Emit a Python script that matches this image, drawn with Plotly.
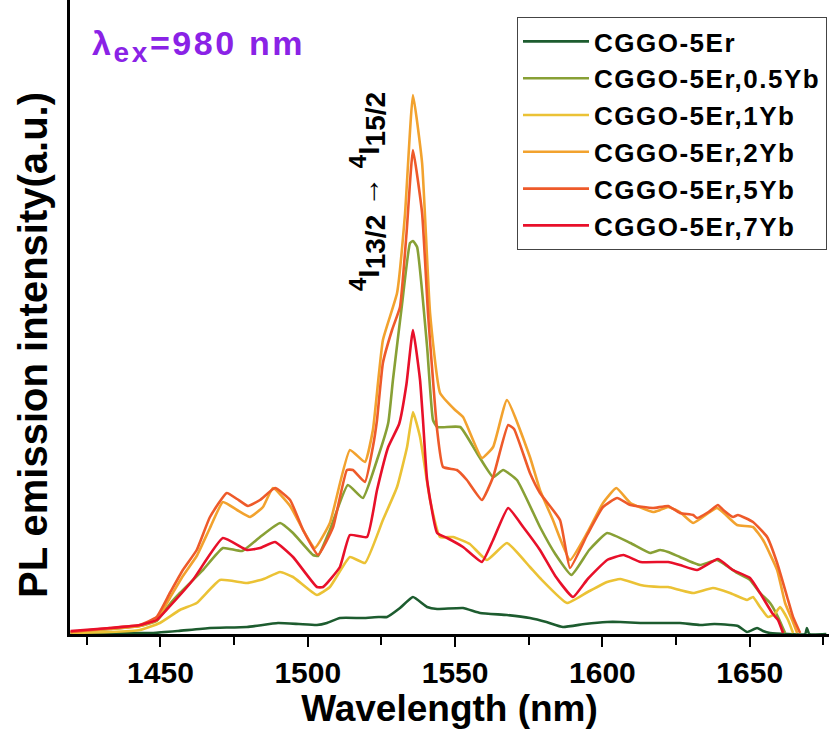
import plotly.graph_objects as go

# ---- data (wavelength in nm, intensity in a.u.) ----
wl_5Er = [1419.5, 1447.5, 1456.0, 1466.8, 1479.4, 1489.9, 1497.0, 1503.1, 1506.5, 1510.9, 1518.7, 1524.0,
          1526.9, 1531.3, 1535.7, 1540.5, 1543.9, 1552.7, 1558.5, 1567.6, 1575.4, 1581.0, 1586.6, 1594.0,
          1601.6, 1606.0, 1612.9, 1620.0, 1626.3, 1633.1, 1638.0, 1643.3, 1646.0, 1649.1, 1652.5,
          1654.5, 1656.9, 1668.8, 1669.4, 1670.2, 1676.0]
I_5Er = [1, 1, 3, 6, 7, 11, 10, 9, 11, 16, 16, 17, 17, 26, 37, 27, 25, 26, 21, 19, 16, 12, 7, 10,
         12, 12, 11, 11, 11, 9, 10, 9, 8, 2, 6, 3, 1, 0, 6, 0, 0]

wl_05Yb = [1419.5, 1432.9, 1443.0, 1448.7, 1453.2, 1456.6, 1464.4, 1471.2, 1477.7, 1483.8, 1490.6, 1495.0,
           1501.8, 1503.5, 1507.5, 1513.6, 1518.7, 1523.5, 1527.3, 1528.9, 1532.0, 1534.7, 1535.7, 1537.1,
           1540.5, 1542.5, 1543.9, 1551.7, 1557.4, 1562.9, 1566.3, 1571.0, 1578.8, 1584.0, 1589.5,
           1595.5, 1601.6, 1609.5, 1616.2, 1619.6, 1622.3, 1626.3, 1633.1, 1638.9, 1645.7, 1650.1,
           1653.5, 1656.9, 1659.6, 1662.0]
I_05Yb = [2, 5, 8, 13, 30, 41, 64, 86, 83, 97, 111, 101, 79, 78, 104, 149, 136, 174, 211, 254, 330, 391,
          393, 387, 287, 214, 207, 207, 181, 157, 164, 154, 107, 80, 59, 84, 101, 91, 81, 84, 82, 77, 69,
          74, 61, 54, 41, 31, 17, 1]

wl_1Yb = [1419.5, 1432.9, 1443.0, 1449.8, 1456.6, 1462.3, 1470.2, 1479.4, 1485.0, 1490.6, 1495.0, 1503.1,
          1507.5, 1514.3, 1519.4, 1525.5, 1530.3, 1533.7, 1535.7, 1538.1, 1541.5, 1544.9, 1549.3, 1555.0,
          1560.8, 1567.6, 1575.4, 1578.8, 1588.0, 1595.0, 1601.6, 1606.1, 1612.9, 1619.6, 1622.3,
          1626.3, 1630.8, 1637.5, 1643.3, 1649.1, 1651.1, 1653.5, 1656.2, 1658.5, 1660.3, 1663.0, 1664.7]
I_1Yb = [1, 2, 4, 11, 24, 31, 54, 51, 55, 62, 57, 39, 47, 77, 71, 114, 147, 187, 222, 197, 134, 97, 97,
         90, 74, 91, 67, 56, 31, 42, 52, 55, 49, 47, 47, 44, 41, 46, 41, 34, 37, 27, 17, 20, 27, 14, 1]

wl_2Yb = [1419.5, 1432.9, 1443.0, 1448.7, 1453.2, 1457.6, 1462.3, 1466.8, 1471.2, 1476.0, 1480.4, 1484.8,
          1488.2, 1494.0, 1498.4, 1502.4, 1507.5, 1514.3, 1519.4, 1522.1, 1525.5, 1530.3, 1533.0, 1535.7,
          1538.8, 1541.5, 1544.9, 1550.0, 1552.7, 1559.1, 1562.9, 1567.6, 1575.4, 1578.8, 1583.2,
          1589.0, 1594.8, 1600.2, 1604.7, 1609.5, 1617.2, 1619.6, 1622.3, 1626.3, 1630.8, 1638.9,
          1645.7, 1651.1, 1654.5, 1659.3, 1662.0, 1664.4, 1666.1]
I_2Yb = [2, 5, 8, 14, 36, 58, 78, 106, 132, 124, 117, 127, 146, 128, 104, 86, 111, 184, 172, 204, 294,
         341, 420, 539, 471, 321, 241, 224, 217, 176, 187, 234, 177, 144, 114, 74, 101, 131, 146, 131,
         122, 124, 127, 122, 111, 126, 109, 107, 94, 64, 31, 14, 1]

wl_5Yb = [1419.5, 1432.9, 1443.0, 1448.7, 1453.2, 1457.6, 1462.3, 1466.8, 1472.5, 1476.0, 1479.7, 1483.8,
          1488.9, 1494.0, 1498.4, 1503.5, 1508.6, 1513.3, 1515.3, 1519.4, 1522.1, 1523.5, 1525.5, 1528.6,
          1531.3, 1533.5, 1535.7, 1538.8, 1540.8, 1543.9, 1545.9, 1550.6, 1554.0, 1559.1, 1562.9,
          1568.0, 1570.0, 1575.4, 1578.8, 1585.6, 1589.0, 1594.8, 1600.2, 1605.0, 1609.5, 1617.2,
          1622.3, 1626.3, 1630.8, 1632.1, 1636.0, 1639.2, 1641.0, 1644.3, 1646.0, 1651.1, 1655.9,
          1659.3, 1662.7, 1664.7, 1667.1]
I_5Yb = [2, 6, 9, 17, 41, 64, 84, 117, 141, 135, 128, 134, 146, 134, 104, 79, 107, 164, 164, 152, 187,
         214, 271, 304, 327, 400, 484, 421, 321, 204, 167, 164, 154, 134, 157, 209, 205, 161, 141, 114,
         66, 99, 127, 136, 129, 126, 128, 121, 119, 116, 122, 129, 124, 117, 119, 112, 97, 71, 37, 17, 1]

wl_7Yb = [1419.5, 1432.9, 1443.0, 1448.7, 1452.0, 1461.0, 1471.2, 1479.4, 1483.8, 1488.9, 1495.0, 1503.1,
          1505.2, 1510.9, 1514.3, 1520.1, 1523.5, 1527.3, 1531.0, 1533.5, 1535.7, 1538.1, 1539.1, 1540.5,
          1543.9, 1547.3, 1552.7, 1559.1, 1562.9, 1568.0, 1573.1, 1578.8, 1584.0, 1590.0, 1595.0,
          1601.6, 1607.1, 1612.9, 1619.6, 1622.3, 1626.3, 1632.1, 1639.2, 1644.3, 1650.1, 1653.5,
          1657.6, 1659.6, 1661.3]
I_7Yb = [3, 6, 9, 14, 24, 54, 96, 84, 86, 92, 77, 47, 47, 67, 99, 97, 144, 187, 210, 250, 304, 254, 214,
         154, 101, 96, 87, 72, 94, 126, 107, 84, 58, 37, 55, 74, 79, 72, 72, 72, 69, 64, 75, 64, 56, 41,
         21, 14, 1]

names = ["CGGO-5Er", "CGGO-5Er,0.5Yb", "CGGO-5Er,1Yb", "CGGO-5Er,2Yb", "CGGO-5Er,5Yb", "CGGO-5Er,7Yb"]
xs = [wl_5Er, wl_05Yb, wl_1Yb, wl_2Yb, wl_5Yb, wl_7Yb]
ys = [I_5Er, I_05Yb, I_1Yb, I_2Yb, I_5Yb, I_7Yb]
colors = ["#1D5C2F", "#88A035", "#EBC235", "#F2A22E", "#EE5A2A", "#E8102A"]

x_ticks = [1450, 1500, 1550, 1600, 1650]

FONT = "Arial, Liberation Sans, sans-serif"

fig = go.Figure()
for x, y, n, c in zip(xs, ys, names, colors):
    fig.add_trace(go.Scatter(x=x, y=y, mode="lines",
                             name='<span style="letter-spacing:1.5px">' + n + '</span>',
                             line=dict(color=c, width=2.6, shape="spline", smoothing=0.4)))

W, H = 829, 729
ml, mr, mt, mb = 70, 0, 0, 95
pw, ph = W - ml - mr, H - mt - mb


def px(xp):
    return (xp - ml) / pw


def py(yp):
    return 1 - (yp - mt) / ph


fig.update_layout(
    width=W, height=H,
    margin=dict(l=ml, r=mr, t=mt, b=mb),
    paper_bgcolor="white", plot_bgcolor="white",
    font=dict(family=FONT, color="black"),
    xaxis=dict(range=[1419.3, 1676.9], showline=True, linecolor="black", linewidth=3,
               tickmode="array", tickvals=x_ticks, ticktext=[str(v) for v in x_ticks],
               ticks="outside", ticklen=10, tickwidth=2, tickcolor="black",
               minor=dict(dtick=25, tick0=1425, ticks="outside", ticklen=8, tickwidth=2, tickcolor="black"),
               tickfont=dict(size=30, family=FONT, weight="bold"),
               showgrid=False, zeroline=False,
               title=dict(text="Wavelength (nm)", font=dict(size=37, family=FONT, weight="bold"),
                          standoff=5)),
    yaxis=dict(range=[0, 634], showline=True, linecolor="black", linewidth=3,
               showticklabels=False, ticks="", showgrid=False, zeroline=False),
    legend=dict(x=px(517), y=py(17), xanchor="left", yanchor="top",
                bgcolor="white", bordercolor="#444", borderwidth=1,
                font=dict(size=26, family=FONT, weight="bold", color="black"),
                itemwidth=66, tracegroupgap=0),
    showlegend=True,
)

fig.add_annotation(xref="paper", yref="paper", x=px(33), y=py(345), xanchor="center", yanchor="middle",
                   text="PL emission intensity(a.u.)", textangle=-90, showarrow=False,
                   font=dict(size=40, family=FONT, weight="bold", color="black"))

fig.add_annotation(xref="paper", yref="paper", x=px(90), y=py(46), xanchor="left", yanchor="middle",
                   text=('<span style="letter-spacing:2.6px">λ<sub><span style="font-size:28px">ex</span></sub>'
                         '=980 nm</span>'), showarrow=False,
                   font=dict(size=34, family=FONT, weight="bold", color="#8A22E6"))

trans = ('<sup><span style="font-size:24px">4</span></sup>I<sub><span style="font-size:28px">13/2</span></sub>'
         ' → <sup><span style="font-size:24px">4</span></sup>I<sub><span style="font-size:28px">15/2</span></sub>')
fig.add_annotation(xref="paper", yref="paper", x=px(367), y=py(192), xanchor="center", yanchor="middle",
                   text=trans, textangle=-90, showarrow=False,
                   font=dict(size=30, family=FONT, weight="bold", color="black"))

fig.write_html("out.html")
